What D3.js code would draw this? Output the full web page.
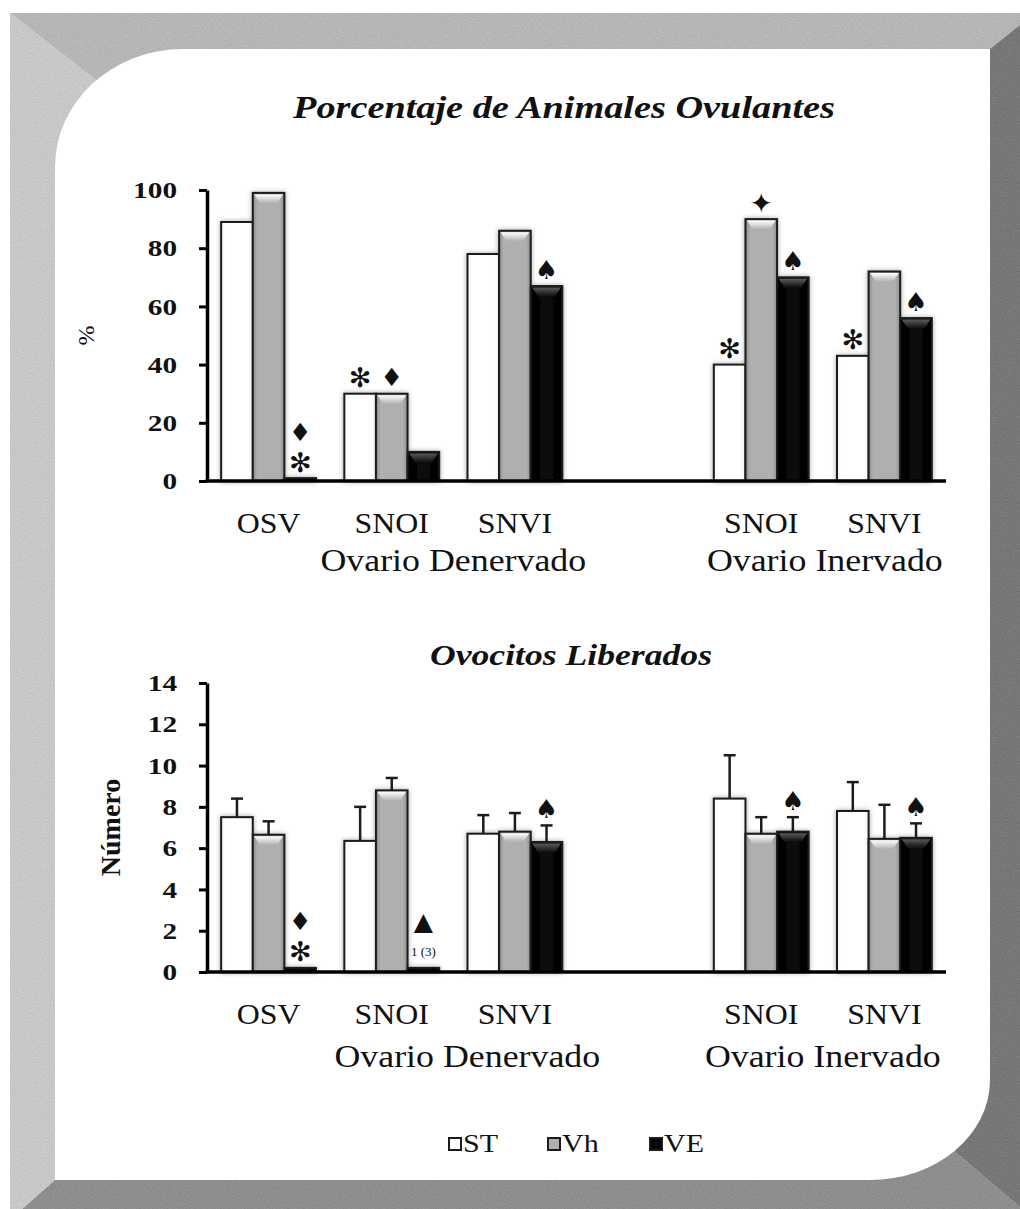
<!DOCTYPE html>
<html>
<head>
<meta charset="utf-8">
<script src="https://cdn.jsdelivr.net/npm/d3@7"></script>
<style>
  body { margin: 0; background: #fff; }
  svg { display: block; }
  text { font-family: "Liberation Serif", "Times New Roman", serif; fill: #111; }
</style>
</head>
<body>
<div id="chart"></div>
<script>
// categories: one empty slot separates the two ovary groups
const categories = ["OSV", "SNOI", "SNVI", "SNOI", "SNVI"];
const slotKeys = ["c0", "c1", "c2", "gap", "c3", "c4"];
const categorySlots = ["c0", "c1", "c2", "c3", "c4"];
const groupLabels = ["Ovario Denervado", "Ovario Inervado"];
const groupSlots = [["c1", "c2"], ["c3", "c4"]];
const seriesNames = ["ST", "Vh", "VE"];

// Porcentaje de animales ovulantes
const ovulST = [89, 30, 78, 40, 43];
const ovulVh = [99, 30, 86, 90, 72];
const ovulVE = [1, 10, 67, 70, 56];
const ovulTicks = [0, 20, 40, 60, 80, 100];
const ovulMarksST = [[], ["✻"], [], ["✻"], ["✻"]];
const ovulMarksVh = [[], ["♦"], [], ["✦"], []];
const ovulMarksVE = [["✻", "♦"], [], ["♠"], ["♠"], ["♠"]];

// Ovocitos liberados (media + error)
const ovoST = [7.5, 6.35, 6.7, 8.4, 7.8];
const ovoVh = [6.65, 8.8, 6.8, 6.7, 6.45];
const ovoVE = [0.2, 0.2, 6.3, 6.8, 6.5];
const ovoSTerr = [0.9, 1.65, 0.9, 2.1, 1.4];
const ovoVherr = [0.65, 0.6, 0.9, 0.8, 1.65];
const ovoVEerr = [0, 0, 0.8, 0.7, 0.7];
const ovoTicks = [0, 2, 4, 6, 8, 10, 12, 14];
const ovoMarksST = [[], [], [], [], []];
const ovoMarksVh = [[], [], [], [], []];
const ovoMarksVE = [["✻", "♦"], ["1 (3)", "▲"], ["♠"], ["♠"], ["♠"]];

const W = 1020, H = 1209;
const serif = "'Liberation Serif', 'Times New Roman', serif";

const svg = d3.select("#chart").append("svg")
    .attr("width", W)
    .attr("height", H);

const defs = svg.append("defs");

const noise = defs.append("filter").attr("id", "noise")
    .attr("x", 0).attr("y", 0).attr("width", "100%").attr("height", "100%");
noise.append("feTurbulence")
    .attr("type", "fractalNoise")
    .attr("baseFrequency", 0.8)
    .attr("numOctaves", 2)
    .attr("seed", 4)
    .attr("result", "t");
noise.append("feColorMatrix")
    .attr("in", "t")
    .attr("type", "matrix")
    .attr("values", "0.33 0.33 0.33 0 0  0.33 0.33 0.33 0 0  0.33 0.33 0.33 0 0  0 0 0 0 1")
    .attr("result", "g");
noise.append("feComposite")
    .attr("in", "g")
    .attr("in2", "SourceGraphic")
    .attr("operator", "in");

const shadow = defs.append("filter").attr("id", "shadow")
    .attr("x", "-30%").attr("y", "-10%").attr("width", "160%").attr("height", "120%");
shadow.append("feDropShadow")
    .attr("dx", 0).attr("dy", 0)
    .attr("stdDeviation", 2.5)
    .attr("flood-color", "#000")
    .attr("flood-opacity", 0.35);

function hGradient(id, stops){
    const g = defs.append("linearGradient").attr("id", id)
        .attr("x1", 0).attr("x2", 1).attr("y1", 0).attr("y2", 0);
    stops.forEach(s => g.append("stop").attr("offset", s[0]).attr("stop-color", s[1]));
}
function vGradient(id, stops){
    const g = defs.append("linearGradient").attr("id", id)
        .attr("x1", 0).attr("x2", 0).attr("y1", 0).attr("y2", 1);
    stops.forEach(s => g.append("stop").attr("offset", s[0]).attr("stop-color", s[1]));
}
hGradient("gST", [["0", "#f4f4f4"], ["0.15", "#ffffff"], ["0.85", "#ffffff"], ["1", "#f0f0f0"]]);
hGradient("gVh", [["0", "#8a8a8a"], ["0.14", "#afafaf"], ["0.86", "#afafaf"], ["1", "#8a8a8a"]]);
hGradient("gVE", [["0", "#000"], ["0.5", "#0b0b0b"], ["1", "#000"]]);
vGradient("bVh", [["0", "#ffffff"], ["1", "#afafaf"]]);
vGradient("bVE", [["0", "#5a5a5a"], ["1", "#0b0b0b"]]);

const fills = {ST: "url(#gST)", Vh: "url(#gVh)", VE: "url(#gVE)"};
const bevels = {ST: null, Vh: "url(#bVh)", VE: "url(#bVE)"};

// stretch glyphs a little: the original face is wider than Liberation Serif
function widen(sel, factor){
    sel.each(function(){
        const w = this.getComputedTextLength();
        d3.select(this)
            .attr("textLength", w * factor)
            .attr("lengthAdjust", "spacingAndGlyphs");
    });
}

// ---- bevelled frame ----
const frame = svg.append("g").attr("class", "frame");
const O = {l: 10, t: 13, r: 1035, b: 1220};
const I = {l: 55, t: 49, r: 990, b: 1180};
const P = [150, 122];   // inner end of top-left miter
const Q = [900, 1105];  // inner end of bottom-right miter
const bands = [
    {pts: [[O.l, O.t], [O.r, O.t], [I.r, I.t], P], c: "#b4b4b4"},
    {pts: [[O.l, O.t], P, [I.l, I.b], [O.l, O.b]], c: "#cecece"},
    {pts: [[O.r, O.t], [O.r, O.b], Q, [I.r, I.t]], c: "#5a5a5a"},
    {pts: [[O.l, O.b], [I.l, I.b], Q, [O.r, O.b]], c: "#7b7b7b"}
];
frame.selectAll("polygon.band")
    .data(bands)
    .enter().append("polygon")
    .attr("class", "band")
    .attr("points", d => d.pts.map(p => p.join(",")).join(" "))
    .attr("fill", d => d.c);
frame.append("rect")
    .attr("x", O.l).attr("y", O.t)
    .attr("width", W - O.l).attr("height", H - O.t)
    .attr("fill", "#000")
    .attr("filter", "url(#noise)")
    .attr("opacity", 0.3);

const rTL = [128, 118], rBR = [120, 100];
frame.append("path")
    .attr("fill", "#fff")
    .attr("d",
        "M" + (I.l + rTL[0]) + "," + I.t +
        " H" + I.r +
        " V" + (I.b - rBR[1]) +
        " A" + rBR[0] + "," + rBR[1] + " 0 0 1 " + (I.r - rBR[0]) + "," + I.b +
        " H" + I.l +
        " V" + (I.t + rTL[1]) +
        " A" + rTL[0] + "," + rTL[1] + " 0 0 1 " + (I.l + rTL[0]) + "," + I.t + " Z");

// ---- shared x scales ----
const x = d3.scaleBand()
    .domain(slotKeys)
    .range([207, 946])
    .paddingInner(0.23)
    .paddingOuter(0.115);

const xs = d3.scaleBand()
    .domain(seriesNames)
    .range([0, x.bandwidth()]);

const glyphSize = {"✻": 27, "♦": 25, "♠": 26, "✦": 28, "▲": 25};

function drawChart(opts){
    const y = d3.scaleLinear()
        .domain([0, opts.max])
        .range([opts.bottom, opts.top]);

    const g = svg.append("g").attr("class", opts.id);

    const rows = [];
    categorySlots.forEach((slot, i) => {
        seriesNames.forEach((s, j) => {
            rows.push({
                slot: slot,
                series: s,
                value: opts.values[j][i],
                err: opts.errors ? opts.errors[j][i] : 0,
                marks: opts.marks[j][i]
            });
        });
    });

    const bars = g.append("g").attr("filter", "url(#shadow)");
    const bar = bars.selectAll("g.bar")
        .data(rows)
        .enter().append("g")
        .attr("class", "bar");

    bar.append("rect")
        .attr("x", d => x(d.slot) + xs(d.series))
        .attr("y", d => y(d.value))
        .attr("width", xs.bandwidth())
        .attr("height", d => y(0) - y(d.value))
        .attr("fill", d => fills[d.series])
        .attr("stroke", "#1c1c1c")
        .attr("stroke-width", 2);

    bar.filter(d => bevels[d.series] && (y(0) - y(d.value)) > 12)
        .append("polygon")
        .attr("points", d => {
            const x0 = x(d.slot) + xs(d.series) + 1.5, x1 = x0 + xs.bandwidth() - 3;
            const t = y(d.value) + 1.5;
            return [[x0, t], [x1, t], [x1 - 6, t + 9], [x0 + 6, t + 9]].map(p => p.join(",")).join(" ");
        })
        .attr("fill", d => bevels[d.series]);

    // error bars (upper half only)
    const eb = g.selectAll("g.err")
        .data(rows.filter(d => d.err > 0))
        .enter().append("g")
        .attr("class", "err")
        .attr("stroke", "#1c1c1c")
        .attr("stroke-width", 2.5);
    eb.append("line")
        .attr("x1", d => x(d.slot) + xs(d.series) + xs.bandwidth() / 2)
        .attr("x2", d => x(d.slot) + xs(d.series) + xs.bandwidth() / 2)
        .attr("y1", d => y(d.value))
        .attr("y2", d => y(d.value + d.err));
    eb.append("line")
        .attr("x1", d => x(d.slot) + xs(d.series) + xs.bandwidth() / 2 - 6)
        .attr("x2", d => x(d.slot) + xs(d.series) + xs.bandwidth() / 2 + 6)
        .attr("y1", d => y(d.value + d.err))
        .attr("y2", d => y(d.value + d.err));

    // significance marks
    const markRows = [];
    rows.forEach(d => d.marks.forEach((m, k) => markRows.push({bar: d, mark: m, k: k})));
    g.selectAll("text.mark")
        .data(markRows)
        .enter().append("text")
        .attr("class", "mark")
        .attr("x", d => x(d.bar.slot) + xs(d.bar.series) + xs.bandwidth() / 2)
        .attr("y", d => y(d.bar.value + d.bar.err) - 16 - d.k * 30)
        .attr("text-anchor", "middle")
        .attr("dominant-baseline", "central")
        .attr("fill", "#111")
        .style("font-family", d => glyphSize[d.mark] ? "'DejaVu Sans'" : serif)
        .style("font-size", d => (glyphSize[d.mark] || 13) + "px")
        .text(d => d.mark);

    // y axis
    const yAxis = g.append("g")
        .attr("transform", "translate(" + x.range()[0] + ",0)")
        .call(d3.axisLeft(y).tickValues(opts.ticks).tickSize(8).tickSizeOuter(0).tickPadding(22));
    yAxis.select(".domain").attr("stroke", "#000").attr("stroke-width", 3.5);
    yAxis.selectAll(".tick line").attr("stroke", "#000").attr("stroke-width", 3);
    yAxis.selectAll(".tick text")
        .attr("fill", "#111")
        .style("font-family", serif)
        .style("font-size", "24px")
        .style("font-weight", "bold")
        .call(widen, 1.22);

    // x baseline
    g.append("line")
        .attr("x1", x.range()[0] - 1.5)
        .attr("x2", x.range()[1])
        .attr("y1", y(0))
        .attr("y2", y(0))
        .attr("stroke", "#000")
        .attr("stroke-width", 3.5);

    // category and group labels
    g.selectAll("text.cat")
        .data(categories)
        .enter().append("text")
        .attr("class", "cat")
        .attr("x", (d, i) => x(categorySlots[i]) + x.bandwidth() / 2)
        .attr("y", y(0) + 52)
        .attr("text-anchor", "middle")
        .style("font-size", "29px")
        .text(d => d)
        .call(widen, 1.1);

    g.selectAll("text.grp")
        .data(groupLabels)
        .enter().append("text")
        .attr("class", "grp")
        .attr("x", (d, i) => (x(groupSlots[i][0]) + x(groupSlots[i][1]) + x.bandwidth()) / 2 + opts.groupShift[i])
        .attr("y", y(0) + opts.groupDy)
        .attr("text-anchor", "middle")
        .style("font-size", "32px")
        .text(d => d)
        .call(widen, 1.12);

    // y label
    g.append("text")
        .attr("transform", "translate(" + opts.yLabelX + "," + (opts.top + opts.bottom) / 2 + ") rotate(-90)")
        .attr("text-anchor", "middle")
        .attr("dominant-baseline", "central")
        .style("font-size", opts.yLabelSize + "px")
        .style("font-weight", opts.yLabelWeight)
        .text(opts.yLabel);

    // title
    g.append("text")
        .attr("x", opts.titleX)
        .attr("y", opts.titleY)
        .attr("text-anchor", "middle")
        .attr("textLength", opts.titleLen)
        .attr("lengthAdjust", "spacingAndGlyphs")
        .style("font-size", opts.titleSize + "px")
        .style("font-style", "italic")
        .style("font-weight", "bold")
        .text(opts.title);
}

drawChart({
    id: "ovulantes",
    title: "Porcentaje de Animales Ovulantes",
    titleX: 564, titleY: 118, titleLen: 542, titleSize: 32,
    max: 100, top: 190, bottom: 481,
    ticks: ovulTicks,
    values: [ovulST, ovulVh, ovulVE],
    errors: null,
    marks: [ovulMarksST, ovulMarksVh, ovulMarksVE],
    yLabel: "%", yLabelX: 86, yLabelSize: 24, yLabelWeight: "normal",
    groupDy: 90, groupShift: [0, 2]
});

drawChart({
    id: "ovocitos",
    title: "Ovocitos Liberados",
    titleX: 571, titleY: 665, titleLen: 282, titleSize: 30,
    max: 14, top: 683, bottom: 972,
    ticks: ovoTicks,
    values: [ovoST, ovoVh, ovoVE],
    errors: [ovoSTerr, ovoVherr, ovoVEerr],
    marks: [ovoMarksST, ovoMarksVh, ovoMarksVE],
    yLabel: "Número", yLabelX: 110, yLabelSize: 28, yLabelWeight: "bold",
    groupDy: 95, groupShift: [14, 0]
});

// legend
const legend = svg.append("g").attr("class", "legend");
const legendX = [449, 548, 650];
const li = legend.selectAll("g")
    .data(seriesNames)
    .enter().append("g")
    .attr("transform", (d, i) => "translate(" + legendX[i] + ",1138)");
li.append("rect")
    .attr("width", 12).attr("height", 12)
    .attr("fill", d => fills[d])
    .attr("stroke", "#1c1c1c")
    .attr("stroke-width", 2);
li.append("text")
    .attr("x", 14)
    .attr("y", 14)
    .style("font-size", "25px")
    .text(d => d)
    .call(widen, 1.2);
</script>
</body>
</html>
